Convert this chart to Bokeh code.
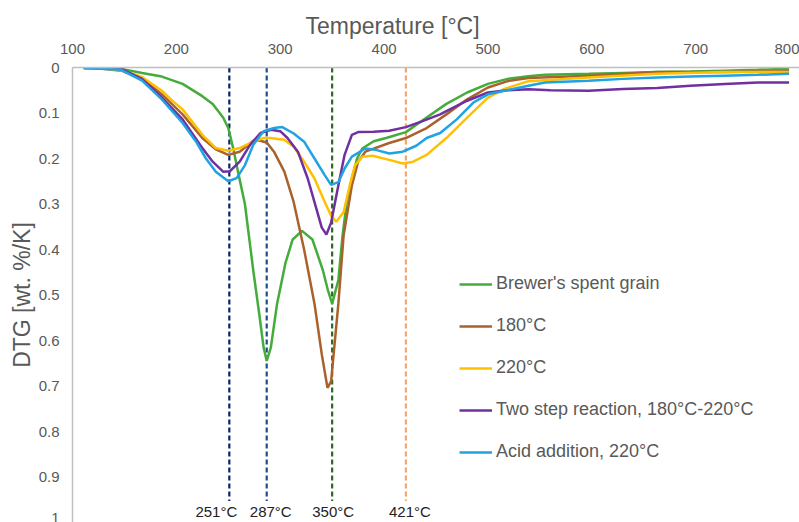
from bokeh.plotting import figure
from bokeh.models import Range1d, FixedTicker, NumeralTickFormatter, Legend, LegendItem, Title
from bokeh.core.properties import value
from bokeh.embed import file_html
from bokeh.resources import INLINE

# ---------------- data ----------------
bsg_T = [110, 127, 147, 167, 186, 206, 225, 235, 245, 250, 255, 260, 266, 274, 280, 284, 287, 291, 297, 305, 312,
         321, 331, 341, 346, 350, 356, 360, 364, 369, 374, 379, 390, 402, 421, 441, 460, 480, 500, 519, 539,
         555, 597, 630, 663, 695, 728, 760, 790]
bsg_v = [0.0, 0.001, 0.003, 0.012, 0.02, 0.036, 0.063, 0.08, 0.11, 0.133, 0.18, 0.236, 0.30, 0.445, 0.545, 0.615,
         0.645, 0.615, 0.519, 0.43, 0.378, 0.359, 0.378, 0.445, 0.49, 0.519, 0.467, 0.37, 0.296, 0.244, 0.2, 0.178,
         0.162, 0.155, 0.142, 0.11, 0.08, 0.055, 0.036, 0.025, 0.019, 0.016, 0.014, 0.012, 0.010, 0.009, 0.007,
         0.005, 0.003]

t180_T = [111, 127, 147, 167, 186, 206, 225, 238, 250, 261, 274, 279, 287, 294, 304, 313, 323, 333, 340, 345.5,
          349, 356, 361, 369, 375, 382, 405, 421, 441, 460, 480, 500, 519, 539, 597, 663, 728, 790]
t180_v = [0.0, 0.002, 0.007, 0.025, 0.059, 0.103, 0.155, 0.18, 0.192, 0.185, 0.161, 0.16, 0.165, 0.185, 0.229,
          0.296, 0.4, 0.519, 0.63, 0.704, 0.69, 0.519, 0.37, 0.259, 0.207, 0.185, 0.166, 0.155, 0.133, 0.103, 0.07,
          0.044, 0.03, 0.023, 0.018, 0.01, 0.01, 0.008]

t220_T = [111, 127, 147, 167, 186, 196, 206, 225, 238, 250, 261, 274, 284, 290, 304, 313, 323, 333, 343, 349, 354,
          361, 367, 372, 379, 389, 405, 418, 428, 441, 460, 480, 500, 516, 539, 597, 663, 728, 790]
t220_v = [0.0, 0.001, 0.006, 0.021, 0.051, 0.073, 0.092, 0.148, 0.177, 0.183, 0.177, 0.163, 0.155, 0.155, 0.159,
          0.174, 0.207, 0.244, 0.296, 0.326, 0.339, 0.318, 0.259, 0.215, 0.196, 0.194, 0.203, 0.211, 0.207, 0.192,
          0.155, 0.11, 0.066, 0.047, 0.03, 0.022, 0.014, 0.01, 0.01]

two_T = [111, 127, 147, 167, 186, 206, 225, 235, 245, 251.5, 261, 271, 281, 291, 300, 307, 317, 326.5, 333, 340,
         344.5, 349, 356, 362, 369, 375, 390, 405, 421, 437, 454, 460, 480, 500, 519, 539, 560, 597, 630, 663, 695,
         728, 760, 790]
two_v = [0.0, 0.0, 0.003, 0.025, 0.066, 0.114, 0.177, 0.207, 0.229, 0.228, 0.207, 0.17, 0.144, 0.137, 0.14, 0.155,
         0.185, 0.244, 0.296, 0.352, 0.367, 0.341, 0.259, 0.192, 0.148, 0.142, 0.141, 0.139, 0.131, 0.118, 0.103,
         0.096, 0.073, 0.055, 0.05, 0.048, 0.05, 0.051, 0.047, 0.045, 0.04, 0.036, 0.033, 0.033]

acid_T = [111, 127, 147, 167, 186, 206, 219, 228.5, 238, 250, 258, 266, 274, 284, 294, 302, 313, 323, 333, 343,
          349, 356, 362, 369, 382, 392, 405, 418, 431, 441, 454, 470, 486, 500, 516, 539, 555, 597, 630, 663, 695,
          728, 760, 790]
acid_v = [0.002, 0.003, 0.005, 0.029, 0.07, 0.122, 0.163, 0.2, 0.229, 0.25, 0.243, 0.215, 0.17, 0.14, 0.133, 0.131,
          0.145, 0.163, 0.2, 0.237, 0.258, 0.252, 0.222, 0.196, 0.178, 0.181, 0.189, 0.185, 0.172, 0.155, 0.144,
          0.114, 0.077, 0.059, 0.051, 0.04, 0.033, 0.029, 0.025, 0.022, 0.02, 0.018, 0.016, 0.014]

series_names = ["Brewer's spent grain", "180°C", "220°C", "Two step reaction, 180°C-220°C", "Acid addition, 220°C"]
series_colors = ["#43AC3A", "#A9622C", "#FFC000", "#7030A0", "#1FA3E2"]

marker_T = [251, 287, 350, 421]
marker_labels = ["251°C", "287°C", "350°C", "421°C"]
marker_colors = ["#0B2467", "#1F4E8C", "#2C6B22", "#F7A46F"]

x_ticks = [100, 200, 300, 400, 500, 600, 700, 800]
y_ticks = [0, 0.1, 0.2, 0.3, 0.4, 0.5, 0.6, 0.7, 0.8, 0.9, 1.0]

x_title = "Temperature [°C]"
y_title = "DTG [wt. %/K]"

# ---------------- styles ----------------
FONT = "Liberation Sans"
GRAY = "#595959"
label_dx = [-13, 4, 1, 4]   # pixel nudges of the marker captions

p = figure(width=799, height=522, output_backend="svg", toolbar_location=None,
           x_axis_location="above", x_range=Range1d(100, 800), y_range=Range1d(1.0, 0.0),
           min_border_left=72, min_border_right=0, min_border_top=67, min_border_bottom=0)
p.outline_line_color = None
p.xgrid.visible = False
p.ygrid.visible = False

xa = p.xaxis[0]
xa.ticker = FixedTicker(ticks=x_ticks)
ya = p.yaxis[0]
ya.ticker = FixedTicker(ticks=y_ticks)
ya.formatter = NumeralTickFormatter(format="0.[0]")
ya.axis_label = y_title
for ax in (xa, ya):
    ax.axis_line_color = "#BFBFBF"
    ax.axis_line_width = 1.5
    ax.major_tick_line_color = None
    ax.minor_tick_line_color = None
    ax.major_tick_out = 0
    ax.major_tick_in = 0
    ax.minor_tick_out = 0
    ax.minor_tick_in = 0
    ax.major_label_text_font = FONT
    ax.major_label_text_font_size = "15px"
    ax.major_label_text_color = GRAY
    ax.axis_label_text_font = FONT
    ax.axis_label_text_font_size = "23px"
    ax.axis_label_text_font_style = "normal"
    ax.axis_label_text_color = GRAY
xa.major_label_standoff = 14
ya.major_label_standoff = 13
ya.axis_label_standoff = 1

# top axis title (sits left of the frame centre in the reference)
p.add_layout(Title(text=x_title, align="left", offset=233, standoff=3,
                   text_font=FONT, text_font_size="23px", text_font_style="normal",
                   text_color=GRAY), "above")

# marker lines
p.segment(x0=marker_T, y0=0.0, x1=marker_T, y1=0.953, line_color=marker_colors,
          line_width=2.2, line_dash="5 3")
p.text(x=marker_T, y=0.975, text=marker_labels, x_offset=label_dx, text_align="center",
       text_baseline="middle", text_font=value(FONT), text_font_size="15px", text_color="#222222")

# curves
data_T = [bsg_T, t180_T, t220_T, two_T, acid_T]
data_v = [bsg_v, t180_v, t220_v, two_v, acid_v]
items = []
for name, col, xs, ys in zip(series_names, series_colors, data_T, data_v):
    r = p.line(xs, ys, line_color=col, line_width=2.5)
    items.append(LegendItem(label=name, renderers=[r]))

legend = Legend(items=items, location=(387, 60), orientation="vertical",
                glyph_width=33, glyph_height=20, label_height=20, spacing=21,
                padding=0, margin=0, label_standoff=4,
                border_line_color=None, background_fill_alpha=0,
                label_text_font=FONT, label_text_font_size="18px", label_text_color=GRAY)
p.add_layout(legend)

open("out.html", "w").write(file_html(p, INLINE))
